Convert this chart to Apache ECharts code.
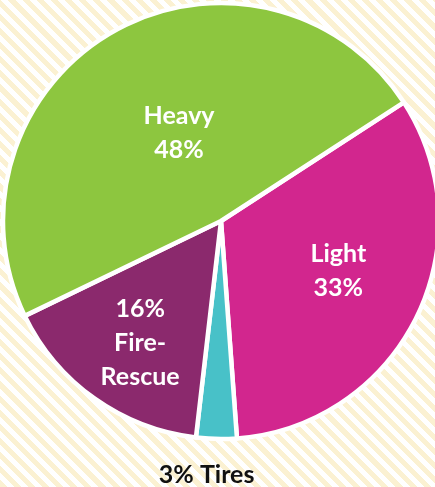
<!DOCTYPE html>
<html>
<head>
<meta charset="utf-8">
<script src="https://cdn.jsdelivr.net/npm/echarts@6/dist/echarts.min.js"></script>
<style>
html,body{margin:0;padding:0;}
#chart{width:435px;height:487px;
background:repeating-linear-gradient(45deg,#fbf1d2 0px,#fbf1d2 5px,#ffffff 5px,#ffffff 10px);}
</style>
</head>
<body>
<div id="chart"></div>
<script>
const categories = ['Light', 'Tires', 'Fire-Rescue', 'Heavy'];
const values = [33, 3, 16, 48];
const labelTexts = ['Light\n33%', '3% Tires', '16%\nFire-\nRescue', 'Heavy\n48%'];
const colors = ['#d2268e', '#48c1c8', '#8b296d', '#8dc63f'];

const labelShift = [[17, 0], [-12, 142], [-16, 31], [13, 10]];

const chart = echarts.init(document.getElementById('chart'));
chart.setOption({
  backgroundColor: 'transparent',
  animation: false,
  series: [{
    type: 'pie',
    center: [221, 221],
    radius: 218,
    startAngle: 33,
    clockwise: true,
    avoidLabelOverlap: false,
    itemStyle: { borderColor: '#ffffff', borderWidth: 4.5 },
    label: {
      show: true,
      position: 'inside',
      color: '#ffffff',
      fontFamily: 'Lato',
      fontWeight: 'bold',
      fontSize: 25,
      lineHeight: 34,
      align: 'center',
      formatter: p => labelTexts[p.dataIndex]
    },
    labelLine: { show: false },
    labelLayout: p => ({ dx: labelShift[p.dataIndex][0], dy: labelShift[p.dataIndex][1] }),
    data: categories.map((c, i) => ({
      name: c,
      value: values[i],
      itemStyle: { color: colors[i] },
      label: i === 1 ? { color: '#111111' } : {}
    }))
  }]
});
</script>
</body>
</html>
